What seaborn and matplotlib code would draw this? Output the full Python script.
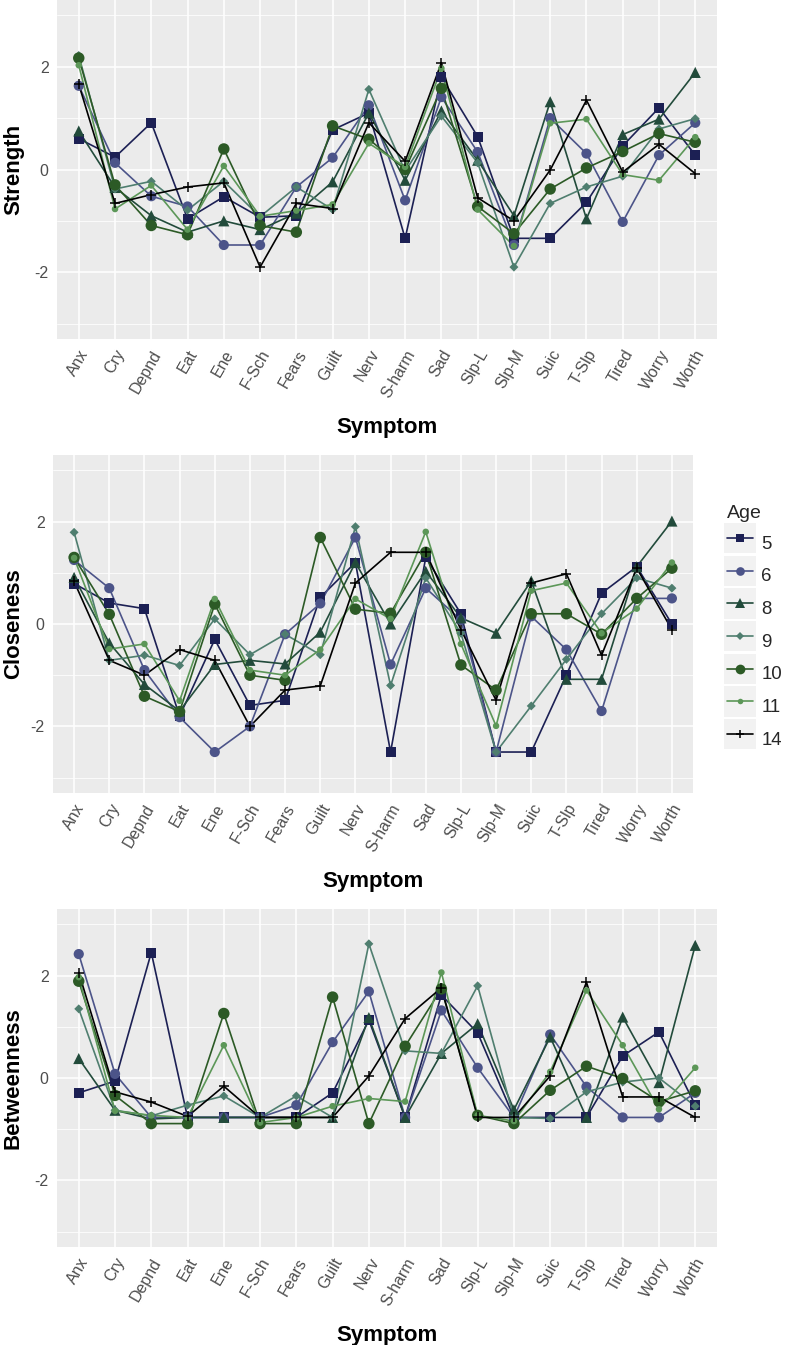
import matplotlib
matplotlib.use("Agg")
import matplotlib.pyplot as plt
import seaborn as sns
import pandas as pd
from matplotlib.lines import Line2D
from matplotlib.patches import Rectangle
from matplotlib.legend_handler import HandlerLine2D

# ---------------- data ----------------
symptoms = ["Anx", "Cry", "Depnd", "Eat", "Ene", "F-Sch", "Fears", "Guilt", "Nerv",
            "S-harm", "Sad", "Slp-L", "Slp-M", "Suic", "T-Slp", "Tired", "Worry", "Worth"]
ages = [5, 6, 8, 9, 10, 11, 14]

strength = {
    5:  [0.60, 0.24, 0.91, -0.96, -0.53, -0.93, -0.90, 0.77, 1.10, -1.34, 1.80, 0.64, -1.34, -1.34, -0.64, 0.46, 1.20, 0.28],
    6:  [1.63, 0.13, -0.52, -0.72, -1.47, -1.47, -0.34, 0.23, 1.25, -0.60, 1.41, 0.34, -1.47, 1.00, 0.31, -1.02, 0.28, 0.91],
    8:  [0.75, -0.35, -0.90, -1.22, -1.00, -1.17, -0.85, -0.24, 1.10, -0.21, 1.14, 0.18, -0.90, 1.32, -0.96, 0.68, 0.98, 1.89],
    9:  [2.22, -0.38, -0.23, -0.79, -0.23, -0.92, -0.34, -0.78, 1.56, -0.03, 1.04, 0.13, -1.90, -0.66, -0.34, -0.13, 0.79, 0.99],
    10: [2.17, -0.30, -1.09, -1.27, 0.40, -1.09, -1.22, 0.85, 0.59, 0.00, 1.58, -0.72, -1.25, -0.38, 0.03, 0.35, 0.70, 0.53],
    11: [2.03, -0.77, -0.31, -1.17, 0.07, -0.91, -0.80, -0.68, 0.51, 0.05, 1.97, -0.78, -1.49, 0.90, 0.98, -0.10, -0.21, 0.63],
    14: [1.66, -0.66, -0.49, -0.34, -0.26, -1.90, -0.66, -0.76, 0.91, 0.16, 2.08, -0.55, -1.00, -0.01, 1.35, -0.05, 0.49, -0.08],
}
closeness = {
    5:  [0.79, 0.41, 0.30, -1.80, -0.30, -1.59, -1.49, 0.52, 1.20, -2.50, 1.30, 0.20, -2.50, -2.50, -1.00, 0.60, 1.12, 0.00],
    6:  [1.25, 0.70, -0.90, -1.82, -2.50, -2.00, -0.20, 0.40, 1.69, -0.79, 0.70, 0.08, -2.50, 0.15, -0.50, -1.70, 0.50, 0.50],
    8:  [0.91, -0.37, -1.18, -1.70, -0.79, -0.71, -0.78, -0.16, 1.20, 0.00, 1.03, 0.12, -0.18, 0.84, -1.08, -1.08, 1.12, 2.01],
    9:  [1.79, -0.71, -0.61, -0.81, 0.10, -0.60, -0.20, -0.60, 1.90, -1.20, 0.90, -0.18, -2.50, -1.60, -0.69, 0.20, 0.90, 0.70],
    10: [1.30, 0.19, -1.41, -1.71, 0.39, -1.00, -1.10, 1.69, 0.29, 0.21, 1.40, -0.80, -1.29, 0.20, 0.20, -0.20, 0.50, 1.09],
    11: [1.29, -0.49, -0.39, -1.50, 0.49, -0.90, -1.00, -0.50, 0.49, 0.10, 1.80, -0.39, -1.99, 0.65, 0.80, -0.18, 0.30, 1.20],
    14: [0.83, -0.71, -1.00, -0.50, -0.71, -2.00, -1.29, -1.21, 0.80, 1.40, 1.40, -0.11, -1.49, 0.80, 0.98, -0.61, 1.09, -0.11],
}
betweenness = {
    5:  [-0.29, -0.06, 2.45, -0.77, -0.77, -0.77, -0.77, -0.29, 1.13, -0.77, 1.62, 0.88, -0.77, -0.77, -0.77, 0.43, 0.90, -0.53],
    6:  [2.42, 0.08, -0.77, -0.77, -0.77, -0.77, -0.53, 0.70, 1.69, -0.77, 1.32, 0.20, -0.77, 0.85, -0.17, -0.77, -0.77, -0.29],
    8:  [0.38, -0.63, -0.80, -0.77, -0.77, -0.77, -0.77, -0.77, 1.18, -0.77, 0.48, 1.06, -0.62, 0.80, -0.77, 1.19, -0.09, 2.59],
    9:  [1.35, -0.63, -0.74, -0.53, -0.35, -0.77, -0.35, -0.77, 2.62, 0.53, 0.48, 1.80, -0.77, -0.79, -0.27, -0.08, 0.00, -0.55],
    10: [1.89, -0.34, -0.89, -0.89, 1.26, -0.89, -0.89, 1.58, -0.89, 0.62, 1.74, -0.73, -0.89, -0.24, 0.23, -0.01, -0.46, -0.25],
    11: [1.97, -0.64, -0.73, -0.77, 0.64, -0.87, -0.77, -0.55, -0.40, -0.46, 2.06, -0.73, -0.84, 0.12, 1.71, 0.64, -0.61, 0.20],
    14: [2.06, -0.27, -0.47, -0.75, -0.16, -0.77, -0.77, -0.77, 0.04, 1.16, 1.76, -0.77, -0.77, 0.04, 1.87, -0.37, -0.37, -0.77],
}

# ---------------- styles ----------------
colors = {5: "#1c2054", 6: "#4c5489", 8: "#224b3b", 9: "#4f7e6f", 10: "#2c5a26", 11: "#5c9758", 14: "#000000"}
markers = {5: "s", 6: "o", 8: "^", 9: "D", 10: "o", 11: "o", 14: "+"}
msizes = {5: 52, 6: 54, 8: 64, 9: 21, 10: 68, 11: 22, 14: 44}

sns.set_theme(style="darkgrid")
plt.rcParams["font.family"] = ["Liberation Sans", "DejaVu Sans"]
plt.rcParams["axes.unicode_minus"] = False

W, H = 788, 1345
fig = plt.figure(figsize=(W / 100, H / 100), dpi=100)


def px_axes(left, top, right, bottom):
    return fig.add_axes([left / W, 1 - bottom / H, (right - left) / W, (bottom - top) / H])


def long_df(d):
    rows = []
    for a in ages:
        for s, v in zip(symptoms, d[a]):
            rows.append({"Symptom": s, "value": v, "Age": a})
    return pd.DataFrame(rows)


panels = [
    ("Strength", strength, (57, 0, 717, 339)),
    ("Closeness", closeness, (53, 455, 693, 793)),
    ("Betweenness", betweenness, (57, 909, 717, 1247)),
]

for title, data, box in panels:
    ax = px_axes(*box)
    ax.set_facecolor("#EBEBEB")
    df = long_df(data)
    for a in ages:
        sub = df[df["Age"] == a]
        sns.lineplot(data=sub, x="Symptom", y="value", color=colors[a], lw=1.2,
                     sort=False, estimator=None, legend=False, ax=ax)
    for a in ages:
        sub = df[df["Age"] == a]
        if markers[a] == "+":
            sns.scatterplot(data=sub, x="Symptom", y="value", marker="+", s=msizes[a],
                            color=colors[a], linewidth=1.1, legend=False, ax=ax, zorder=5)
        else:
            sns.scatterplot(data=sub, x="Symptom", y="value", marker=markers[a], s=msizes[a],
                            color=colors[a], edgecolor="none", linewidth=0, legend=False,
                            ax=ax, zorder=5)
    ax.set_xlim(-0.6, len(symptoms) - 0.4)
    ax.set_ylim(-3.3, 3.3)
    ax.set_yticks([-2, 0, 2])
    ax.set_yticks([-3, -1, 1, 3], minor=True)
    ax.grid(True, which="major", color="white", lw=1.1)
    ax.grid(True, which="minor", axis="y", color="white", lw=0.55)
    ax.tick_params(axis="both", which="major", length=4, width=1.0, color="#333333",
                   labelcolor="#4D4D4D", labelsize=11.5, pad=2)
    ax.tick_params(axis="both", which="minor", length=0)
    for sp in ax.spines.values():
        sp.set_visible(False)
    plt.setp(ax.get_xticklabels(), rotation=60, ha="right", va="top", rotation_mode="anchor")
    ax.set_xlabel("Symptom", fontsize=16, fontweight="bold", color="black", labelpad=12)
    ax.set_ylabel(title, fontsize=16, fontweight="bold", color="black")
    left, top, right, bottom = box
    ax.yaxis.set_label_coords((24 - left) / (right - left), 0.5)
    ax.set_axisbelow(True)


# ---------------- legend ----------------
class KeyHandler(HandlerLine2D):
    def create_artists(self, legend, orig_handle, xdescent, ydescent, width, height, fontsize, trans):
        arts = super().create_artists(legend, orig_handle, xdescent, ydescent, width, height, fontsize, trans)
        yc = (height - ydescent) / 2.0
        padx = 1.9
        rect = Rectangle((-xdescent - padx, yc - height / 2.0), width + 2 * padx, height,
                         facecolor="#F2F2F2", edgecolor="none", transform=trans)
        return [rect] + list(arts)


handles = [Line2D([], [], color=colors[a], lw=1.2, marker=markers[a],
                  markersize=msizes[a] ** 0.5 * 0.85,
                  markeredgewidth=(1.1 if markers[a] == "+" else 0)) for a in ages]
leg = fig.legend(handles, [str(a) for a in ages], title="Age", loc="upper left",
                 bbox_to_anchor=(727 / W, 1 - 505 / H), frameon=False,
                 fontsize=13.4, title_fontsize=14, handlelength=1.4, handleheight=2.14,
                 labelspacing=0.12, handletextpad=0.45, borderpad=0, borderaxespad=0,
                 alignment="left", handler_map={Line2D: KeyHandler()})
leg._legend_box.sep = 4

fig.savefig("out.png", dpi=100)
